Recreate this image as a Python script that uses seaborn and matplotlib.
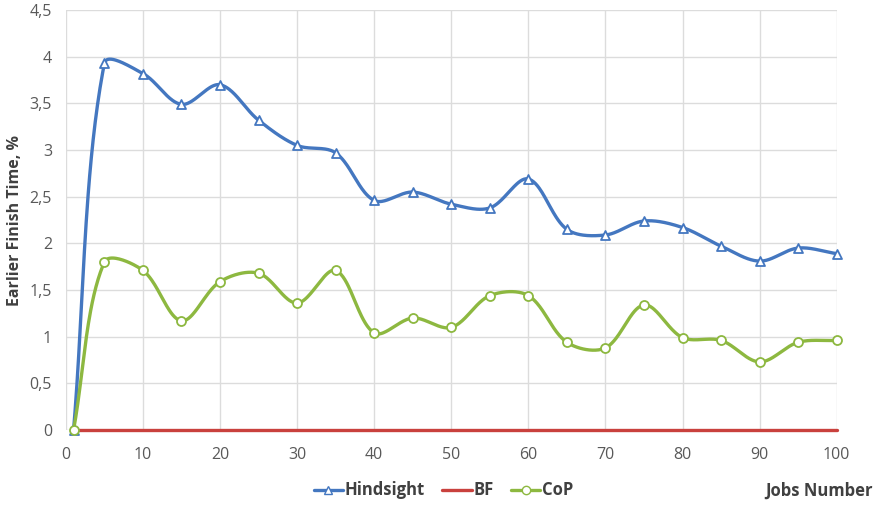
import numpy as np
import pandas as pd
import matplotlib
matplotlib.use("Agg")
import matplotlib.pyplot as plt
import seaborn as sns
from matplotlib.lines import Line2D

jobs = [1, 5, 10, 15, 20, 25, 30, 35, 40, 45, 50, 55, 60, 65, 70, 75, 80, 85, 90, 95, 100]
hindsight = [0, 3.93, 3.82, 3.49, 3.70, 3.32, 3.05, 2.97, 2.46, 2.55, 2.42, 2.38, 2.69,
             2.15, 2.09, 2.24, 2.17, 1.97, 1.81, 1.95, 1.89]
bf = [0] * len(jobs)
cop = [0, 1.80, 1.71, 1.17, 1.59, 1.68, 1.36, 1.71, 1.04, 1.20, 1.10, 1.44, 1.44,
       0.94, 0.88, 1.34, 0.99, 0.96, 0.73, 0.94, 0.96]

series_names = ["Hindsight", "BF", "CoP"]
colors = {"Hindsight": "#4477c0", "BF": "#c9413d", "CoP": "#8db840"}
markers = {"Hindsight": "^", "BF": None, "CoP": "o"}

# approximate screen scale (px per data unit) used to weight the spline tangents
SX, SY = 7.71, 93.3


def smooth(x, y, n=40):
    """Cardinal spline with chord-length weighted tangents (office-style smoothed line)."""
    P = np.column_stack([np.asarray(x, float) * SX, np.asarray(y, float) * SY])
    k = len(P)
    seg = np.linalg.norm(np.diff(P, axis=0), axis=1)
    t = np.linspace(0, 1, n, endpoint=False)
    h00 = 2 * t**3 - 3 * t**2 + 1
    h10 = t**3 - 2 * t**2 + t
    h01 = -2 * t**3 + 3 * t**2
    h11 = t**3 - t**2
    out = []
    for i in range(k - 1):
        p1, p2 = P[i], P[i + 1]
        d12 = seg[i]
        if i == 0:
            m1 = p2 - p1
        else:
            d01 = seg[i - 1]
            m1 = (p2 - P[i - 1]) * d12 / (d01 + d12) if d01 + d12 > 0 else p2 - p1
        if i == k - 2:
            m2 = p2 - p1
        else:
            d23 = seg[i + 1]
            m2 = (P[i + 2] - p1) * d12 / (d12 + d23) if d12 + d23 > 0 else p2 - p1
        pts = (np.outer(h00, p1) + np.outer(h10, m1) + np.outer(h01, p2) + np.outer(h11, m2))
        out.append(pts)
    out.append(P[-1:])
    pts = np.vstack(out)
    return pts[:, 0] / SX, pts[:, 1] / SY


points = pd.DataFrame({
    "Jobs": jobs * 3,
    "Value": hindsight + bf + cop,
    "Series": ["Hindsight"] * len(jobs) + ["BF"] * len(jobs) + ["CoP"] * len(jobs),
})

curves = []
for name, vals in zip(series_names, [hindsight, bf, cop]):
    sx, sy = smooth(jobs, vals)
    curves.append(pd.DataFrame({"Jobs": sx, "Value": sy, "Series": name}))
curves = pd.concat(curves, ignore_index=True)

sns.set_theme(style="white")
plt.rcParams["font.family"] = ["Open Sans", "DejaVu Sans"]

fig, ax = plt.subplots(figsize=(8.78, 5.05), dpi=100)
fig.subplots_adjust(left=0.075, right=0.953, top=0.980, bottom=0.1485)

sns.lineplot(data=curves, x="Jobs", y="Value", hue="Series", hue_order=series_names,
             palette=colors, linewidth=2.4, sort=False, estimator=None,
             legend=False, ax=ax, zorder=3)
for ln in ax.get_lines():
    ln.set_clip_on(False)

for name in ["Hindsight", "CoP"]:
    sub = points[points["Series"] == name]
    sns.scatterplot(data=sub, x="Jobs", y="Value", marker=markers[name], s=42,
                    facecolor="white", edgecolor=colors[name], linewidth=1.3,
                    ax=ax, zorder=4, legend=False, clip_on=False)

ax.set_xlim(0, 100)
ax.set_ylim(0, 4.5)
ax.set_xticks(np.arange(0, 101, 10))
ytick_vals = np.arange(0, 4.51, 0.5)
ax.set_yticks(ytick_vals)
ax.set_yticklabels([f"{v:g}".replace(".", ",") for v in ytick_vals])
ax.grid(True, color="#dcdcdc", linewidth=1.0)
for s in ax.spines.values():
    s.set_visible(False)
ax.tick_params(axis="both", length=0, labelsize=11.5, labelcolor="#595959")
ax.tick_params(axis="y", pad=10)
ax.tick_params(axis="x", pad=12)
ax.set_xlabel("")
ax.set_ylabel("Earlier Finish Time, %", fontsize=11.5, fontweight="bold", color="#404040",
              labelpad=5)

handles = [
    Line2D([], [], color=colors["Hindsight"], lw=2.4, marker="^", markersize=6,
           markerfacecolor="white", markeredgecolor=colors["Hindsight"]),
    Line2D([], [], color=colors["BF"], lw=2.4),
    Line2D([], [], color=colors["CoP"], lw=2.4, marker="o", markersize=6,
           markerfacecolor="white", markeredgecolor=colors["CoP"]),
]
leg = fig.legend(handles, series_names, loc="center", bbox_to_anchor=(0.505, 0.029),
                 ncol=3, frameon=False, handlelength=1.75, handletextpad=0.1,
                 columnspacing=1.05, prop={"weight": "bold", "size": 12})
for t in leg.get_texts():
    t.set_color("#404040")

fig.text(0.994, 0.029, "Jobs Number", ha="right", va="center", fontsize=12,
         fontweight="bold", color="#404040")

fig.savefig("out.png", dpi=100)
